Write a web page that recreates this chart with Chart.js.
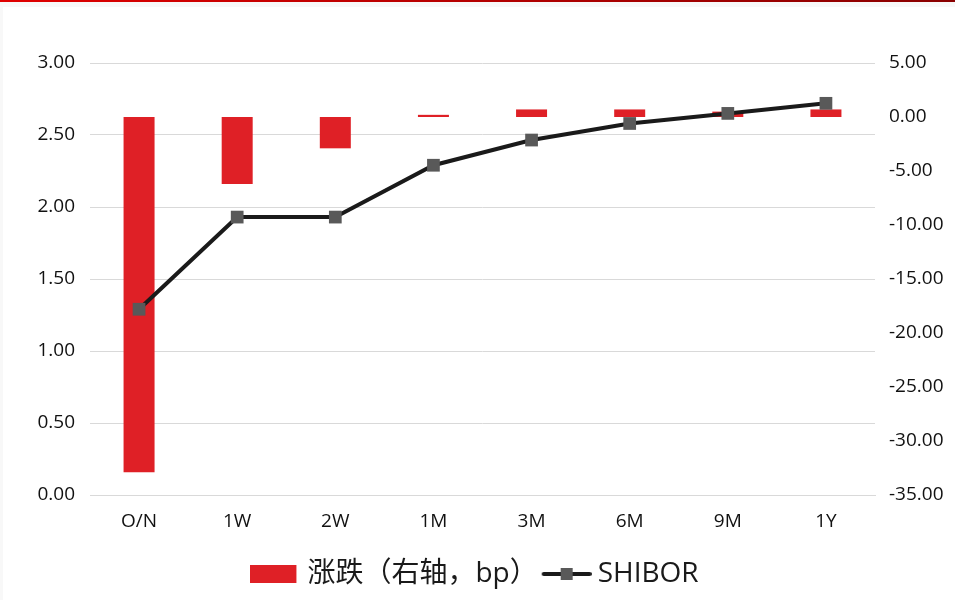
<!DOCTYPE html>
<html>
<head>
<meta charset="utf-8">
<script src="https://cdn.jsdelivr.net/npm/chart.js@4.4.1/dist/chart.umd.min.js"></script>
<style>
  html, body { margin: 0; padding: 0; width: 955px; height: 600px; overflow: hidden; background: #f8f8f8; }
  #topbar { position: absolute; left: 0; top: 0; width: 955px; height: 2px; background: linear-gradient(to right, #e00000, #8a0000); }
  #box { position: absolute; left: 3px; top: 7px; width: 952px; height: 593px; background: #fff; }
</style>
</head>
<body>
<div id="topbar"></div>
<div id="box"><canvas id="c" width="952" height="593"></canvas></div>
<script>
// SHIBOR term structure (left axis, %) and daily change (right axis, bp)
const tenors   = ['O/N', '1W', '2W', '1M', '3M', '6M', '9M', '1Y'];
const shibor   = [1.29, 1.93, 1.93, 2.29, 2.465, 2.58, 2.65, 2.72];
const changeBp = [-32.9, -6.2, -2.9, 0.2, 0.7, 0.7, 0.5, 0.7];

const barLabel  = '涨跌（右轴，bp）';
const lineLabel = 'SHIBOR';

const RED  = '#df2026';
const LINE = '#1a1a1a';
const MARK = '#595959';

const tickFont = { family: "'Open Sans', 'Noto Sans CJK SC', sans-serif", size: 19 };
const legendFont = { family: "'Open Sans', 'Noto Sans CJK SC', sans-serif", size: 28 };

// Legend swatches. Each image is centred on the legend box slot; the visible
// swatch is offset inside a slightly wider transparent canvas so that it sits
// close to its label.
function barSwatch() {
  const c = document.createElement('canvas');
  c.width = 50; c.height = 18;
  const g = c.getContext('2d');
  g.fillStyle = RED;
  g.fillRect(0, 0, 46, 18);
  return c;
}
function lineSwatch() {
  const c = document.createElement('canvas');
  c.width = 52; c.height = 14;
  const g = c.getContext('2d');
  g.strokeStyle = LINE;
  g.lineWidth = 4;
  g.lineCap = 'round';
  g.beginPath(); g.moveTo(4, 7); g.lineTo(50, 7); g.stroke();
  g.fillStyle = MARK;
  g.fillRect(21, 1, 12, 12);
  return c;
}
const swatches = [barSwatch(), lineSwatch()];

new Chart(document.getElementById('c'), {
  data: {
    labels: tenors,
    datasets: [
      {
        type: 'line',
        label: lineLabel,
        data: shibor,
        yAxisID: 'y',
        borderColor: LINE,
        borderWidth: 4,
        pointStyle: 'rect',
        pointRadius: 9,
        pointBackgroundColor: MARK,
        pointBorderColor: MARK,
        pointBorderWidth: 0,
        tension: 0,
        order: 0
      },
      {
        type: 'bar',
        label: barLabel,
        data: changeBp,
        yAxisID: 'y1',
        backgroundColor: RED,
        borderWidth: 0,
        categoryPercentage: 1,
        barPercentage: 0.316,
        order: 1
      }
    ]
  },
  options: {
    responsive: false,
    animation: false,
    layout: { padding: { top: 56, bottom: 2, left: 0, right: 2 } },
    plugins: {
      tooltip: { enabled: false },
      legend: {
        position: 'bottom',
        labels: {
          font: legendFont,
          color: '#1a1a1a',
          usePointStyle: true,
          pointStyleWidth: 36,
          padding: 10,
          generateLabels: (chart) => {
            const order = [1, 0];
            return order.map((dsIndex, i) => ({
              text: chart.data.datasets[dsIndex].label,
              pointStyle: swatches[i],
              fillStyle: 'transparent',
              strokeStyle: 'transparent',
              lineWidth: 0,
              fontColor: '#1a1a1a',
              datasetIndex: dsIndex,
              hidden: false
            }));
          }
        }
      }
    },
    scales: {
      x: {
        offset: true,
        grid: { display: false, drawTicks: false },
        border: { display: true, color: '#d9d9d9' },
        ticks: { font: tickFont, color: '#111', padding: 15, maxRotation: 0 },
        afterFit: (s) => { s.height = 55; }
      },
      y: {
        position: 'left',
        min: 0, max: 3,
        ticks: { stepSize: 0.5, font: tickFont, color: '#111', padding: 15,
                 callback: (v) => Number(v).toFixed(2) },
        grid: { color: '#d9d9d9', lineWidth: 1, drawTicks: false },
        border: { display: false },
        afterFit: (s) => { s.width = 87; }
      },
      y1: {
        position: 'right',
        min: -35, max: 5,
        ticks: { stepSize: 5, font: tickFont, color: '#111', padding: 14,
                 callback: (v) => Number(v).toFixed(2) },
        grid: { display: false, drawTicks: false },
        border: { display: false },
        afterFit: (s) => { s.width = 78; }
      }
    }
  }
});
</script>
</body>
</html>
